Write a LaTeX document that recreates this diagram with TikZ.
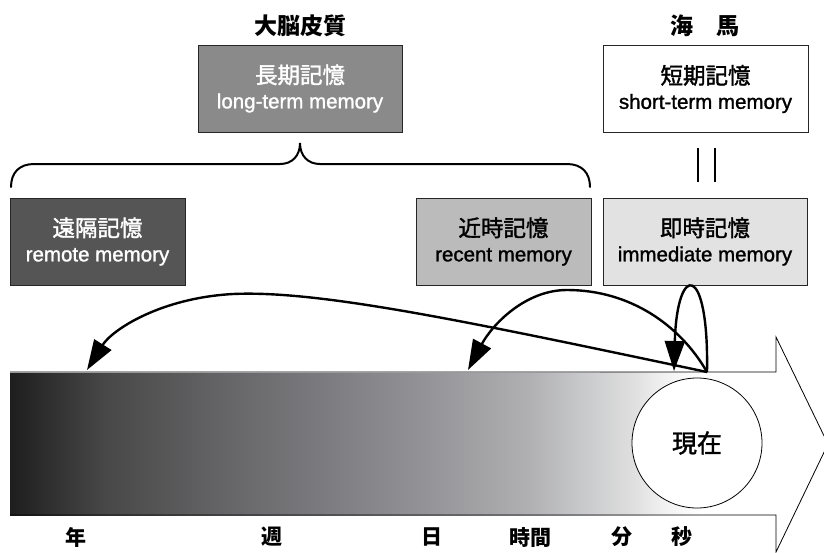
\documentclass[tikz,border=0pt]{standalone}
\usepackage{fontspec}
\setmainfont[FakeBold=1.3]{Liberation Sans}
\newfontfamily\jp[FakeBold=1.6]{Noto Sans CJK JP}
\newfontfamily\jpbold{Noto Sans CJK JP}
\usetikzlibrary{arrows.meta}
\definecolor{gA}{HTML}{1E1E1E}
\definecolor{gB}{HTML}{484848}
\definecolor{gC}{HTML}{626264}
\definecolor{gD}{HTML}{7A7A7E}
\definecolor{gE}{HTML}{939397}
\definecolor{gF}{HTML}{B0B0B3}
\definecolor{gG}{HTML}{C8C9CB}
\definecolor{gH}{HTML}{E0E0E0}
\definecolor{gI}{HTML}{F0F0F0}
\definecolor{longfill}{HTML}{8A8A8A}
\definecolor{remotefill}{HTML}{555555}
\definecolor{recentfill}{HTML}{BBBBBB}
\definecolor{immfill}{HTML}{E2E2E2}
\pgfdeclarehorizontalshading{timeshade}{100bp}{color(0bp)=(gA); color(25bp)=(gA); color(31.25bp)=(gB); color(38.2bp)=(gC); color(45bp)=(gD); color(52bp)=(gE); color(58.9bp)=(gF); color(62.4bp)=(gG); color(65.85bp)=(gH); color(67.55bp)=(gI); color(70.1bp)=(white); color(100bp)=(white)}
\tikzset{
  membox/.style={draw=black!85, line width=0.9pt, minimum height=87pt, align=center, inner sep=0pt,
    font=\fontsize{20.5}{25}\selectfont},
  toplabel/.style={font=\jpbold\bfseries\fontsize{23}{28}\selectfont},
  timelabel/.style={font=\jpbold\bfseries\fontsize{21}{25}\selectfont},
  memarrow/.style={line width=2.4pt, -{Triangle[length=30pt,width=20pt]}},
}
\newcommand{\jpl}[1]{{\jp\fontsize{22.5}{25}\selectfont #1}}
\begin{document}
\begin{tikzpicture}[x=1pt,y=-1pt]
\useasboundingbox (0,0) rectangle (824,552);
\fill[white] (0,0) rectangle (824,552);

% top labels
\node[toplabel] (cortex) at (300,26) {大脳皮質};
\node[toplabel] (hippo) at (705,26) {海　馬};

% boxes
\node[membox, fill=longfill, text=white, minimum width=204pt] (long) at (300,88.5) {\jpl{長期記憶}\\long-term memory};
\node[membox, fill=white, text=black, minimum width=205pt] (short) at (705.5,89) {\jpl{短期記憶}\\short-term memory};
\node[membox, fill=remotefill, text=white, minimum width=175pt] (remote) at (97.5,241.5) {\jpl{遠隔記憶}\\remote memory};
\node[membox, fill=recentfill, text=black, minimum width=175pt] (recent) at (503.5,241.5) {\jpl{近時記憶}\\recent memory};
\node[membox, fill=immfill, text=black, minimum width=204pt] (imm) at (705,241.5) {\jpl{即時記憶}\\immediate memory};

% equality sign
\draw[line width=1.8pt] (698,148) -- (698,182);
\draw[line width=1.8pt] (715,148) -- (715,182);

% brace
\draw[line width=2pt, line cap=round]
  (11,187) .. controls (11,173) and (19,164) .. (34,164) -- (280,164)
  .. controls (292,164) and (300,156) .. (300,143)
  .. controls (300,156) and (308,164) .. (320,164) -- (567,164)
  .. controls (582,164) and (590,173) .. (590,187);

% time arrow
\shade[shading=timeshade] (10,372) rectangle (775,515);
\coordinate (now0) at (707,372);
\draw[line width=0.8pt, line join=miter]
  (10,372) -- (776,372) -- (776,337) -- (828,444) -- (776,552) -- (776,515) -- (10,515);
\draw[black!40, line width=0.6pt] (10,372) -- (600,372);

\node[circle, draw=black, line width=0.8pt, fill=white, minimum size=130pt, inner sep=0pt,
  font=\jp\fontsize{25}{28}\selectfont] (now) at (697,443) {現在};

% arrows
\coordinate (remoteT) at (87,370);
\coordinate (recentT) at (468,370);
\coordinate (immT) at (674,371);
\draw[memarrow] (now0) .. controls (470,322) and (320,290) .. (233,294)
  .. controls (160,298) and (112,330) .. (remoteT);
\draw[memarrow] (now0) .. controls (680,325) and (630,290) .. (567,290)
  .. controls (525,290) and (492,325) .. (recentT);
\draw[memarrow] (now0) .. controls (709,262) and (677,262) .. (immT);

% time scale labels
\node[timelabel] (year) at (76,537) {年};
\node[timelabel] (week) at (272,537) {週};
\node[timelabel] (day) at (432,537) {日};
\node[timelabel] (hour) at (530,537) {時間};
\node[timelabel] (minute) at (622,537) {分};
\node[timelabel] (second) at (682,537) {秒};
\end{tikzpicture}
\end{document}
